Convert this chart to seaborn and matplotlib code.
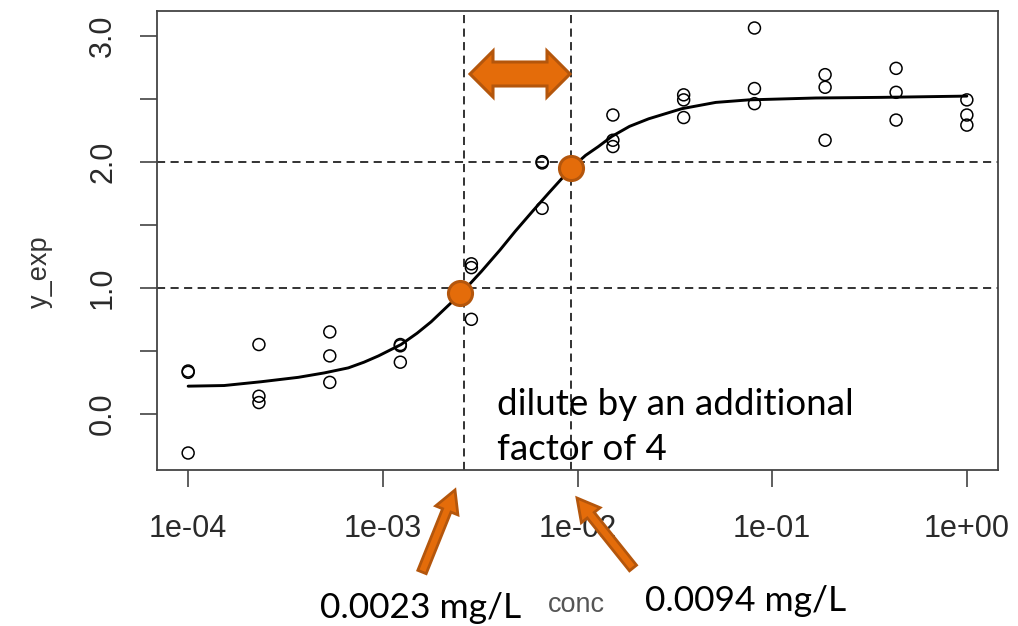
import matplotlib
matplotlib.use("Agg")
import matplotlib.pyplot as plt
import matplotlib.transforms as mtransforms
from matplotlib.patches import Polygon, FancyArrow
import seaborn as sns
import pandas as pd
import numpy as np

# observed responses, 3 replicates per concentration
conc_levels = [1e-4, 2.31e-4, 5.34e-4, 1.23e-3, 2.85e-3, 6.58e-3,
               1.52e-2, 3.51e-2, 8.11e-2, 0.187, 0.433, 1.0]
y_reps = [[0.34, 0.33, -0.31],
          [0.55, 0.14, 0.09],
          [0.65, 0.46, 0.25],
          [0.55, 0.54, 0.41],
          [1.19, 1.16, 0.75],
          [2.00, 1.99, 1.63],
          [2.37, 2.17, 2.12],
          [2.53, 2.49, 2.35],
          [3.06, 2.58, 2.46],
          [2.69, 2.59, 2.17],
          [2.74, 2.55, 2.33],
          [2.49, 2.37, 2.29]]

# fitted dose-response curve
curve_conc = [1e-4, 1.53e-4, 2.37e-4, 3.68e-4, 5.0e-4, 6.65e-4, 8.0e-4, 9.5e-4,
              1.24e-3, 1.5e-3, 1.77e-3, 2.17e-3, 2.54e-3, 3.21e-3, 4.0e-3, 4.8e-3,
              5.9e-3, 7.1e-3, 9.3e-3, 1.1e-2, 1.28e-2, 1.5e-2, 1.85e-2, 2.32e-2,
              3.43e-2, 5.13e-2, 7.57e-2, 0.1675, 0.366, 1.0]
curve_y = [0.22, 0.225, 0.255, 0.29, 0.325, 0.365, 0.41, 0.46,
           0.55, 0.64, 0.73, 0.86, 0.96, 1.13, 1.30, 1.45,
           1.61, 1.75, 1.95, 2.05, 2.12, 2.20, 2.28, 2.34,
           2.42, 2.47, 2.49, 2.505, 2.51, 2.52]

# marked points and reference lines
mark_conc = [0.0025, 0.0093]
mark_y = [0.96, 1.95]
vline_conc = [0.0026, 0.0093]
hline_y = [1.0, 2.0]

xtick_vals = [1e-4, 1e-3, 1e-2, 1e-1, 1.0]
xtick_labels = ["1e-04", "1e-03", "1e-02", "1e-01", "1e+00"]
ytick_vals = [0.0, 0.5, 1.0, 1.5, 2.0, 2.5, 3.0]
ytick_labels = ["0.0", "", "1.0", "", "2.0", "", "3.0"]

note_text = ["dilute by an additional", "factor of 4"]
conc_notes = ["0.0023 mg/L", "0.0094 mg/L"]

ORANGE = "#E46C0A"
ORANGE_EDGE = "#B4560C"
W, H = 1018, 626

sns.set_style("white")
plt.rcParams["font.family"] = ["Liberation Sans", "DejaVu Sans"]

fig = plt.figure(figsize=(W / 100, H / 100), dpi=100)
ax = fig.add_axes([157 / W, 1 - 470 / H, 841 / W, 459 / H])

obs = pd.DataFrame({"conc": np.repeat(conc_levels, 3), "y_exp": np.ravel(y_reps)})
fit = pd.DataFrame({"conc": curve_conc, "y_exp": curve_y})
marks = pd.DataFrame({"conc": mark_conc, "y_exp": mark_y})

ax.set_xscale("log")
for v in vline_conc:
    ax.axvline(v, color="#222222", lw=1.3, ls=(0, (4.5, 3)), zorder=1)
for h in hline_y:
    ax.axhline(h, color="#222222", lw=1.3, ls=(0, (4.5, 3)), zorder=1)

sns.lineplot(data=fit, x="conc", y="y_exp", color="black", lw=2.1, ax=ax, zorder=2)
sns.scatterplot(data=obs, x="conc", y="y_exp", marker="o", s=74,
                facecolor="none", edgecolor="black", linewidth=1.1, ax=ax, zorder=3)
sns.scatterplot(data=marks, x="conc", y="y_exp", marker="o", s=300,
                color=ORANGE, edgecolor=ORANGE_EDGE, linewidth=2.2, ax=ax, zorder=4)

# R style 4% axis extension
lx = np.log10(conc_levels)
ext = 0.04 * (lx.max() - lx.min())
ax.set_xlim(10 ** (lx.min() - ext), 10 ** (lx.max() + ext))
yy = np.ravel(y_reps)
ey = 0.04 * (yy.max() - yy.min())
ax.set_ylim(yy.min() - ey, yy.max() + ey)

ax.set_xticks(xtick_vals)
ax.set_xticklabels(xtick_labels)
ax.xaxis.set_minor_locator(matplotlib.ticker.NullLocator())
ax.set_yticks(ytick_vals)
ax.set_yticklabels(ytick_labels, rotation=90, va="center")
ax.tick_params(axis="both", length=12, width=1.1, color="#333333",
               labelsize=22, labelcolor="#2a2a2a", direction="out")
ax.tick_params(axis="x", pad=20, bottom=True)
ax.tick_params(axis="y", pad=16, left=True)
for sp in ax.spines.values():
    sp.set_color("#444444")
    sp.set_linewidth(1.3)

ax.set_xlabel("conc", fontsize=19.5, color="#555555", va="center")
ax.xaxis.set_label_coords(0.499, (470 - 605) / 459)
ax.set_ylabel("y_exp", fontsize=19.5, color="#333333", va="center", ha="center")
ax.yaxis.set_label_coords((40 - 157) / 841, (470 - 272) / 459)

# annotations in pixel coordinates (origin top-left of image)
px = mtransforms.IdentityTransform()


def P(x, y):
    return (x, H - y)


dbl = [P(470, 74), P(493, 51), P(493, 62), P(547, 62), P(547, 51), P(570, 74),
       P(547, 97), P(547, 86), P(493, 86), P(493, 97)]
fig.patches.append(Polygon(dbl, closed=True, fc=ORANGE, ec=ORANGE_EDGE, lw=2.2,
                           transform=px, figure=fig))

for (x0, y0), (x1, y1) in [((422, 572), (455, 490)), ((633, 568), (577, 498))]:
    a0 = P(x0, y0)
    a1 = P(x1, y1)
    fig.patches.append(FancyArrow(a0[0], a0[1], a1[0] - a0[0], a1[1] - a0[1],
                                  width=9, head_width=24, head_length=22,
                                  length_includes_head=True, fc=ORANGE,
                                  ec=ORANGE_EDGE, lw=2, transform=px, figure=fig))

note_kw = dict(transform=px, family="Lato", color="black", va="baseline", ha="left")
fig.text(*P(497, 415), note_text[0], fontsize=26.5, **note_kw)
fig.text(*P(497, 460), note_text[1], fontsize=26.5, **note_kw)
fig.text(*P(320, 618), conc_notes[0], fontsize=25.5, **note_kw)
fig.text(*P(645, 611), conc_notes[1], fontsize=25.5, **note_kw)

fig.savefig("out.png", dpi=100)
